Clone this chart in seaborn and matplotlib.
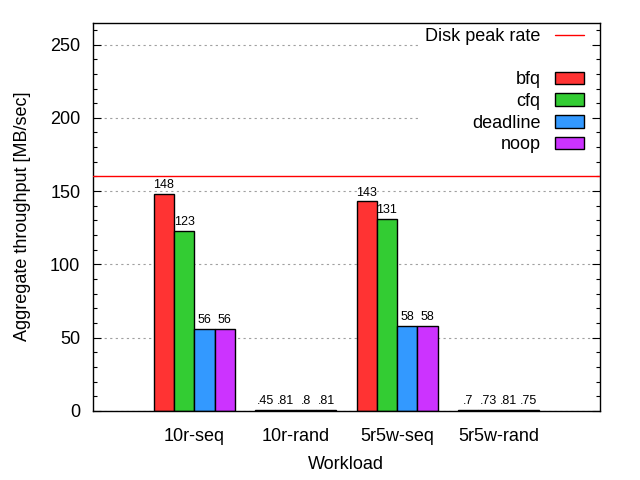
import pandas as pd
import matplotlib
matplotlib.use("Agg")
import matplotlib.pyplot as plt
import seaborn as sns
from matplotlib.lines import Line2D
from matplotlib.patches import Patch

# data
workloads = ['10r-seq', '10r-rand', '5r5w-seq', '5r5w-rand']
schedulers = ['bfq', 'cfq', 'deadline', 'noop']
bfq = [148, 0.45, 143, 0.7]
cfq = [123, 0.81, 131, 0.73]
deadline = [56, 0.8, 58, 0.81]
noop = [56, 0.81, 58, 0.75]
disk_peak_rate = 160
colors = ['#ff3333', '#33cc33', '#3399ff', '#cc33ff']


def fmt_value(v):
    # gnuplot-like labels: integers for big values, ".45" style for small ones
    if v >= 1:
        return f'{v:.0f}'
    return f'{v:.2g}'.lstrip('0')


def main():
    rows = []
    for name, vals in zip(schedulers, [bfq, cfq, deadline, noop]):
        for w, v in zip(workloads, vals):
            rows.append({'workload': w, 'scheduler': name, 'throughput': v})
    df = pd.DataFrame(rows)

    sns.set_style('white')
    plt.rcParams['font.family'] = ['Liberation Sans', 'DejaVu Sans']
    for key in ['text.color', 'axes.labelcolor', 'xtick.color', 'ytick.color']:
        plt.rcParams[key] = 'black'

    fig = plt.figure(figsize=(6.4, 4.8), dpi=100)
    ax = fig.add_axes([0.145, 0.144, 0.7925, 0.809])

    ax.yaxis.grid(True, color='#a0a0a0', linestyle=(0, (2, 3)), linewidth=0.8)
    ax.set_axisbelow(True)

    sns.barplot(data=df, x='workload', y='throughput', hue='scheduler',
                palette=colors, saturation=1, edgecolor='black', linewidth=1,
                width=0.8, ax=ax, legend=False)

    for cont in ax.containers:
        ax.bar_label(cont, labels=[fmt_value(v) for v in cont.datavalues],
                     fontsize=9, padding=2)

    ax.axhline(disk_peak_rate, color='red', linewidth=1, zorder=3)

    ax.set_xlim(-1, 4)
    ax.set_ylim(0, 265)
    ax.set_yticks(range(0, 251, 50))
    ax.set_yticks(range(0, 261, 10), minor=True)
    ax.tick_params(axis='y', which='both', direction='in', left=True, right=True,
                   labelsize=13, pad=9)
    ax.tick_params(axis='y', which='major', length=6, width=0.8)
    ax.tick_params(axis='y', which='minor', length=3, width=0.8)
    ax.tick_params(axis='x', length=0, labelsize=13, pad=12)
    for s in ax.spines.values():
        s.set_color('black')
        s.set_linewidth(1)

    ax.set_xlabel('Workload', fontsize=13, labelpad=8)
    ax.set_ylabel('Aggregate throughput [MB/sec]', fontsize=13, labelpad=14)

    handles = [Line2D([], [], color='red', linewidth=1),
               Patch(visible=False)]
    labels = ['Disk peak rate', ' ']
    for name, c in zip(schedulers, colors):
        handles.append(Patch(facecolor=c, edgecolor='black', linewidth=1))
        labels.append(name)
    leg = ax.legend(handles, labels, loc='upper right', bbox_to_anchor=(0.979, 1.0),
                    markerfirst=False, fontsize=13, frameon=True, fancybox=False,
                    framealpha=1, edgecolor='white', facecolor='white',
                    borderaxespad=0, borderpad=0.3, handlelength=1.6,
                    handletextpad=0.8, labelspacing=0.26)
    leg.set_zorder(2.4)  # keep the frame spines visible over the key box

    # right-align legend rows like gnuplot's key
    for col in leg._legend_handle_box.get_children():
        col.align = 'right'

    plt.savefig('out.png', dpi=100)
    plt.close()


if __name__ == "__main__":
    main()
